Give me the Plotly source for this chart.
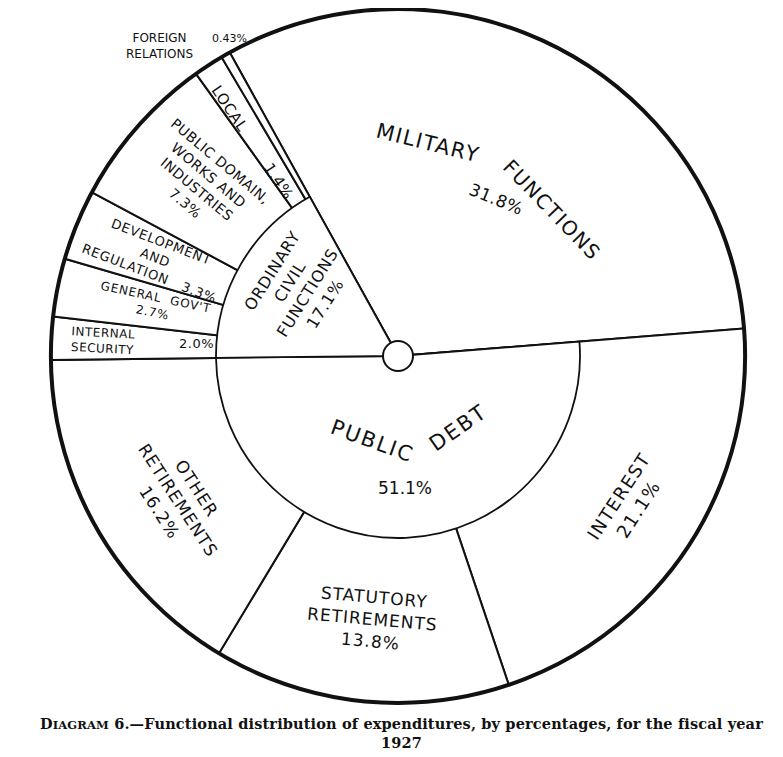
import plotly.graph_objects as go

W, H = 783, 757

# inner ring: main functions (clockwise, starting with military)
groups = ["MILITARY FUNCTIONS", "PUBLIC DEBT", "ORDINARY CIVIL FUNCTIONS"]
group_pct = [31.8, 51.1, 17.1]

# outer ring: subdivisions, same clockwise order
items = ["MILITARY FUNCTIONS", "INTEREST", "STATUTORY RETIREMENTS", "OTHER RETIREMENTS",
         "INTERNAL SECURITY", "GENERAL GOV'T", "DEVELOPMENT AND REGULATION",
         "PUBLIC DOMAIN, WORKS AND INDUSTRIES", "LOCAL", "FOREIGN RELATIONS"]
item_pct = [31.8, 21.1, 13.8, 16.2, 2.0, 2.7, 3.3, 7.3, 1.4, 0.43]

OFF = 8                # page body margin the browser adds
CX, CY = 398, 356      # centre of the disc, px on the page
R_OUT, R_IN, R_HUB = 347, 182, 15
START = -29            # degrees from 12 o'clock
INK = "#111111"
HAND = "DejaVu Sans, Arial, sans-serif"


def px(x, y):
    return (x - OFF) / W, 1 - (y - OFF) / H


def dom(r):
    x0, y1 = px(CX - r, CY - r)
    x1, y0 = px(CX + r, CY + r)
    return dict(x=[x0, x1], y=[y0, y1])


fig = go.Figure()

# full disc with every subdivision
fig.add_trace(go.Pie(
    labels=items, values=item_pct, sort=False, direction="clockwise", rotation=START,
    domain=dom(R_OUT), textinfo="none", hoverinfo="label+value", showlegend=False,
    marker=dict(colors=["white"] * len(items), line=dict(color=INK, width=2)),
))

# inner disc: public debt and civil functions, military left open
fig.add_trace(go.Pie(
    labels=groups, values=group_pct, sort=False, direction="clockwise", rotation=START,
    domain=dom(R_IN), textinfo="none", hoverinfo="label+value", showlegend=False,
    marker=dict(colors=["rgba(0,0,0,0)", "white", "white"],
                line=dict(color=INK, width=[0, 1.8, 1.8])),
))

# heavy rim
fig.add_trace(go.Pie(
    values=[sum(group_pct)], domain=dom(R_OUT), textinfo="none", hoverinfo="skip",
    showlegend=False, marker=dict(colors=["rgba(0,0,0,0)"], line=dict(color=INK, width=4)),
))

# hub
fig.add_trace(go.Pie(
    values=[sum(group_pct)], domain=dom(R_HUB), textinfo="none", hoverinfo="skip",
    showlegend=False, marker=dict(colors=["white"], line=dict(color=INK, width=2)),
))

labels = [
    ("MILITARY", 428, 143, 21, 14, 1.5),
    ("FUNCTIONS", 552, 210, 20, 46, 1.5),
    ("31.8%", 496, 199, 17, 22, 0.5),
    ("PUBLIC", 372, 441, 21, 20, 2),
    ("DEBT", 458, 428, 21, -35, 2),
    ("51.1%", 405, 488, 17, 0, 0),
    ("ORDINARY<br>CIVIL<br>FUNCTIONS<br>17.1%", 298, 287, 16, -58, 0.8),
    ("LOCAL        1.4%", 252, 142, 15, 56, 0.5),
    ("PUBLIC DOMAIN,<br>WORKS AND<br>INDUSTRIES<br>7.3%", 203, 182, 14, 40, 0.5),
    ("DEVELOPMENT<br>AND<br>REGULATION   3.3%", 155, 257, 13, 21, 0.8),
    ("GENERAL  GOV'T<br>2.7%", 154, 305, 12, 12, 0.8),
    ("INTERNAL<br>SECURITY", 103, 341, 12, 3, 0.5),
    ("2.0%", 196, 343, 13, 0, 0.5),
    ("FOREIGN<br>RELATIONS", 159, 46, 12, 0, 0),
    ("0.43%", 229, 38, 11, 0, 0),
    ("INTEREST<br>21.1%", 628, 503, 18, -57, 1.5),
    ("STATUTORY<br>RETIREMENTS<br>13.8%", 372, 619, 17, 5, 1),
    ("OTHER<br>RETIREMENTS<br>16.2%", 178, 500, 17, 57, 1),
]

annotations = []
for text, x, y, size, ang, sp in labels:
    xp, yp = px(x, y)
    styled = "<br>".join(f"<span style='letter-spacing:{sp}px'>{ln}</span>"
                         for ln in text.split("<br>"))
    annotations.append(dict(
        text=styled, x=xp, y=yp, xref="paper", yref="paper",
        showarrow=False, textangle=ang, font=dict(family=HAND, size=size, color=INK),
        xanchor="center", yanchor="middle",
    ))

SERIF = "DejaVu Serif, Liberation Serif, serif"
cap_x, cap_y = px(402, 733)
annotations.append(dict(
    text="<span style='letter-spacing:0.15px'><b>D<span style='font-size:11.5px'>IAGRAM</span>"
         " 6.—Functional distribution of expenditures, by percentages, for the fiscal year"
         "<br>1927</b></span>",
    x=cap_x, y=cap_y, xref="paper", yref="paper", showarrow=False,
    xanchor="center", yanchor="middle", align="center",
    font=dict(family=SERIF, size=14.5, color=INK),
))

fig.update_layout(
    width=W, height=H, margin=dict(l=0, r=0, t=0, b=0),
    paper_bgcolor="white", plot_bgcolor="white",
    annotations=annotations,
)

fig.write_html("out.html")
